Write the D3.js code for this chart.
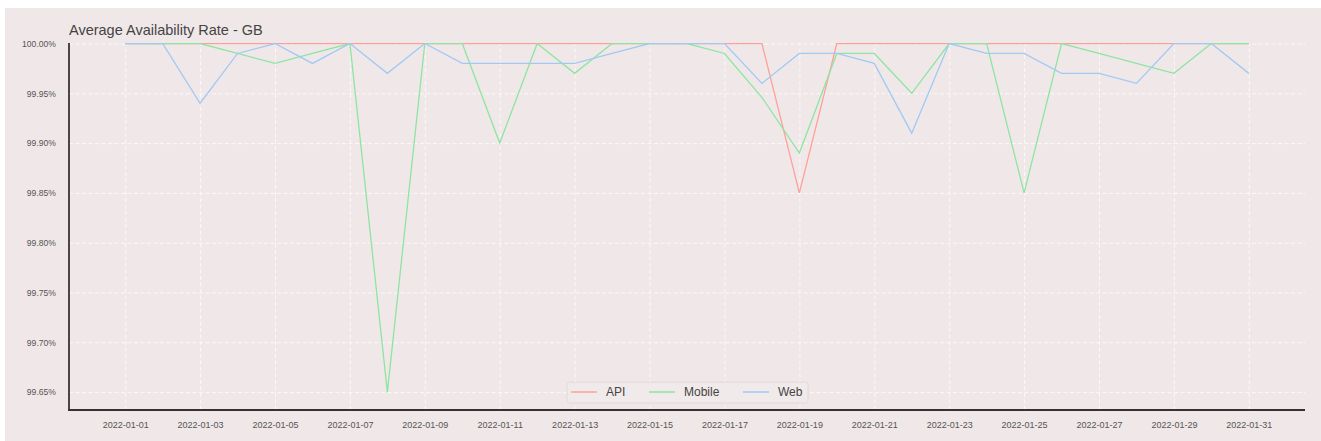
<!DOCTYPE html>
<html>
<head>
<meta charset="utf-8">
<script src="https://cdn.jsdelivr.net/npm/d3@7"></script>
<style>
  body { margin: 0; background: #fff; }
  svg { display: block; font-family: "Liberation Sans", Arial, sans-serif; }
</style>
</head>
<body>
<svg width="1321" height="441"></svg>
<script>
const dates = d3.range(1, 32).map(d => `2022-01-${String(d).padStart(2, '0')}`)

const api = [
  100, 100, 100, 100, 100, 100, 100, 100, 100, 100,
  100, 100, 100, 100, 100, 100, 100, 100, 99.85, 100,
  100, 100, 100, 100, 100, 100, 100, 100, 100, 100, 100
]
const mobile = [
  100, 100, 100, 99.99, 99.98, 99.99, 100, 99.65, 100, 100,
  99.90, 100, 99.97, 100, 100, 100, 99.99, 99.946, 99.89, 99.99,
  99.99, 99.95, 100, 100, 99.85, 100, 99.99, 99.98, 99.97, 100, 100
]
const web = [
  100, 100, 99.94, 99.99, 100, 99.98, 100, 99.97, 100, 99.98,
  99.98, 99.98, 99.98, 99.99, 100, 100, 100, 99.96, 99.99, 99.99,
  99.98, 99.91, 100, 99.99, 99.99, 99.97, 99.97, 99.96, 100, 100, 99.97
]

const seriesNames = ['API', 'Mobile', 'Web']
const seriesColors = ['#ff9f9b', '#8de5a1', '#a1c9f4']
const yTicks = [99.65, 99.70, 99.75, 99.80, 99.85, 99.90, 99.95, 100.00]
const xTickLabels = dates.filter((d, i) => i % 2 === 0)

const parse = d3.utcParse('%Y-%m-%d')
const series = [api, mobile, web].map((vals, k) => ({
  name: seriesNames[k],
  color: seriesColors[k],
  points: vals.map((v, i) => ({ date: parse(dates[i]), value: v }))
}))

const plotLeft = 69, plotRight = 1305, plotTop = 43.5, plotBottom = 410

const x = d3.scaleUtc()
  .domain([d3.utcHour.offset(parse(dates[0]), -36), d3.utcHour.offset(parse(dates[dates.length - 1]), 36)])
  .range([plotLeft, plotRight])

const y = d3.scaleLinear()
  .domain([99.632, 100])
  .range([plotBottom, plotTop])

const svg = d3.select('svg')

// figure background
svg.append('rect')
  .attr('x', 5).attr('y', 8)
  .attr('width', 1316).attr('height', 433)
  .attr('fill', '#f0e8e8')

// grid
svg.append('g')
  .attr('transform', `translate(${plotLeft},0)`)
  .call(d3.axisLeft(y).tickValues(yTicks).tickSize(-(plotRight - plotLeft)).tickFormat(''))
  .call(g => g.select('.domain').remove())
  .call(g => g.selectAll('line')
    .attr('stroke', '#fbf8f8').attr('stroke-width', 1).attr('stroke-dasharray', '4,2.5'))

svg.append('g')
  .attr('transform', `translate(0,${plotBottom})`)
  .call(d3.axisBottom(x).tickValues(xTickLabels.map(parse)).tickSize(-(plotBottom - plotTop)).tickFormat(''))
  .call(g => g.select('.domain').remove())
  .call(g => g.selectAll('line')
    .attr('stroke', '#fbf8f8').attr('stroke-width', 1).attr('stroke-dasharray', '4,2.5'))

svg.append('clipPath').attr('id', 'plot')
  .append('rect')
  .attr('x', plotLeft).attr('y', plotTop - 0.5)
  .attr('width', plotRight - plotLeft).attr('height', plotBottom - plotTop + 0.5)

const line = d3.line()
  .x(d => x(d.date))
  .y(d => y(d.value))

svg.append('g')
  .attr('clip-path', 'url(#plot)')
  .selectAll('path')
  .data(series)
  .enter()
  .append('path')
  .attr('d', d => line(d.points))
  .attr('fill', 'none')
  .attr('stroke', d => d.color)
  .attr('stroke-width', 1.3)

// axes
svg.append('g')
  .attr('transform', `translate(${plotLeft},0)`)
  .call(d3.axisLeft(y).tickValues(yTicks).tickSize(0).tickPadding(13).tickFormat(d => d.toFixed(2) + '%'))
  .call(g => g.select('.domain').remove())
  .call(g => g.selectAll('text').attr('fill', '#555').attr('font-size', 8.6).attr('font-family', null))

svg.append('g')
  .attr('transform', `translate(0,${plotBottom})`)
  .call(d3.axisBottom(x).tickValues(xTickLabels.map(parse)).tickSize(0).tickPadding(12).tickFormat(d3.utcFormat('%Y-%m-%d')))
  .call(g => g.select('.domain').remove())
  .call(g => g.selectAll('text').attr('fill', '#555').attr('font-size', 9).attr('font-family', null))

svg.append('line')
  .attr('x1', plotLeft).attr('x2', plotLeft)
  .attr('y1', plotTop - 0.5).attr('y2', plotBottom + 1)
  .attr('stroke', '#111').attr('stroke-width', 1.5)

svg.append('line')
  .attr('x1', plotLeft - 0.75).attr('x2', plotRight)
  .attr('y1', plotBottom).attr('y2', plotBottom)
  .attr('stroke', '#333').attr('stroke-width', 1.8)

// title
svg.append('text')
  .attr('x', plotLeft).attr('y', 35)
  .attr('font-size', 14.5)
  .attr('fill', '#444')
  .text('Average Availability Rate - GB')

// legend
const legend = svg.append('g').attr('transform', 'translate(567,382)')
legend.append('rect')
  .attr('width', 241).attr('height', 21).attr('rx', 2.5)
  .attr('fill', '#f1eaea').attr('stroke', '#ddd6d6').attr('stroke-width', 0.8)

const legendX = [4, 82, 176]
const items = legend.selectAll('.item')
  .data(series)
  .enter()
  .append('g')
  .attr('class', 'item')
  .attr('transform', (d, i) => `translate(${legendX[i]},10)`)

items.append('line')
  .attr('x1', 0).attr('x2', 26)
  .attr('stroke', d => d.color).attr('stroke-width', 1.5)

items.append('text')
  .attr('x', 35).attr('y', 4.3)
  .attr('font-size', 12)
  .attr('fill', '#444')
  .text(d => d.name)
</script>
</body>
</html>
